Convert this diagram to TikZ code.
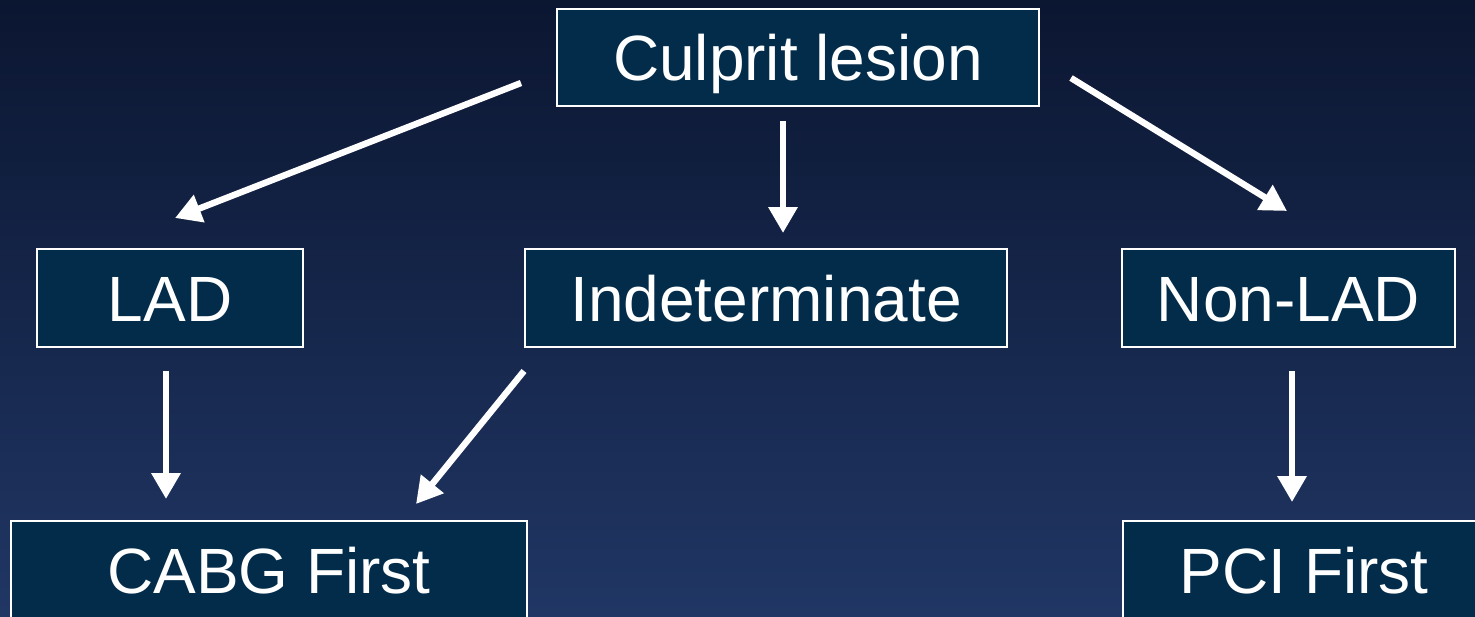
\documentclass[tikz,border=0pt]{standalone}
\usepackage{fontspec}
\setmainfont{Liberation Sans}
\usetikzlibrary{arrows.meta}
\definecolor{bgtop}{HTML}{0B1631}
\definecolor{bgmid}{HTML}{121E40}
\definecolor{bgbot}{HTML}{203664}
\definecolor{boxfill}{HTML}{032C4A}
\tikzset{
  decbox/.style={draw=white, line width=1.2pt, fill=boxfill, text=white, inner sep=0pt,
    text height=23.2pt, text depth=0pt,
    font=\fontsize{32pt}{38pt}\selectfont},
  decarrow/.style={draw=white, line width=3.2pt, -{Triangle[length=13pt,width=14pt]}}
}
\begin{document}
\begin{tikzpicture}[x=0.5pt,y=-0.5pt]
\useasboundingbox (0,0) rectangle (1475,616);
\clip (0,0) rectangle (1475,616);
\shade[top color=bgtop, middle color=bgmid, bottom color=bgbot] (0,0) rectangle (1475,616);
% boxes
\node[decbox, minimum width=241pt, minimum height=48.5pt] (cul) at (798,57.5) {Culprit lesion};
\node[decbox, minimum width=133pt, minimum height=49pt] (lad) at (170,298) {LAD};
\node[decbox, minimum width=241pt, minimum height=49pt] (ind) at (766,298) {Indeterminate};
\node[decbox, minimum width=166.5pt, minimum height=49pt] (non) at (1288.5,298) {Non-LAD};
\node[decbox, minimum width=258pt, minimum height=49pt] (cabg) at (269,570) {CABG First};
\node[decbox, minimum width=181pt, minimum height=49pt] (pci) at (1304,570) {PCI First};
% arrow end points
\coordinate (a1s) at (521,83);  \coordinate (a1e) at (175,218);
\coordinate (a2s) at (783,121); \coordinate (a2e) at (783,233);
\coordinate (a3s) at (1071,78); \coordinate (a3e) at (1287,211);
\coordinate (a4s) at (166,371); \coordinate (a4e) at (166,499);
\coordinate (a5s) at (524,371); \coordinate (a5e) at (416,504);
\coordinate (a6s) at (1292,371); \coordinate (a6e) at (1292,502);
\draw[decarrow] (a1s) -- (a1e);
\draw[decarrow] (a2s) -- (a2e);
\draw[decarrow] (a3s) -- (a3e);
\draw[decarrow] (a4s) -- (a4e);
\draw[decarrow] (a5s) -- (a5e);
\draw[decarrow] (a6s) -- (a6e);
\end{tikzpicture}
\end{document}
